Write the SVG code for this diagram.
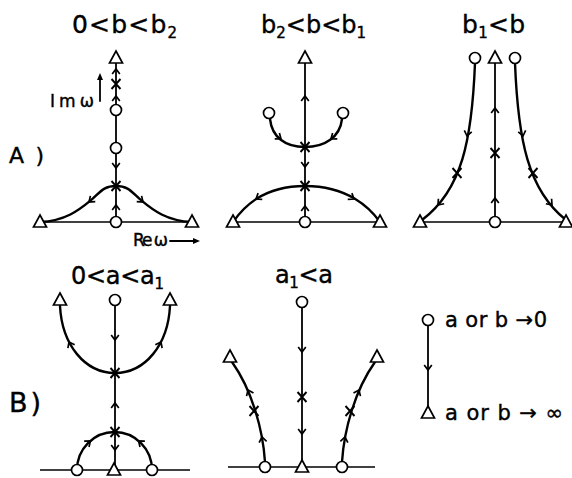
<svg xmlns="http://www.w3.org/2000/svg" xmlns:xlink="http://www.w3.org/1999/xlink" width="572" height="478" viewBox="0 0 572 478">
<style>
.ln{fill:none;stroke:#000;stroke-width:1.8;stroke-linecap:round}
.cv{fill:none;stroke:#000;stroke-width:2.4;stroke-linecap:round}
.ax{fill:none;stroke:#000;stroke-width:1.4}
.t{font-family:"DejaVu Sans","Liberation Sans",sans-serif;fill:#000;stroke:#000;stroke-width:0.4}
</style>
<defs>
<path id="ch" d="M-5,-3.8 L0,0 L-5,3.8" fill="none" stroke="#000" stroke-width="1.7" stroke-linejoin="miter"/>
<path id="x" d="M-4.5,-5 L4.5,5 M-4.5,5 L4.5,-5" fill="none" stroke="#000" stroke-width="1.9"/>
<circle id="o" r="5.5" fill="#fff" stroke="#000" stroke-width="1.7"/>
<path id="tr" d="M0,-7 L6.5,5 L-6.5,5Z" fill="#fff" stroke="#000" stroke-width="1.7" stroke-linejoin="miter"/>
<path id="ah" d="M0,0 L-7,-3 L-7,3Z" fill="#000"/>
</defs>

<g id="labels">
<text class="t" x="72" y="33" font-size="25" textLength="105" lengthAdjust="spacing">0&lt;b&lt;b<tspan font-size="15" dy="5">2</tspan></text>
<text class="t" x="261" y="33" font-size="24">b<tspan font-size="15" dy="5">2</tspan><tspan dy="-5">&lt;b&lt;b</tspan><tspan font-size="15" dy="5">1</tspan></text>
<text class="t" x="462" y="33" font-size="25" textLength="63" lengthAdjust="spacing">b<tspan font-size="15" dy="5">1</tspan><tspan dy="-5">&lt;b</tspan></text>
<text class="t" x="71" y="284" font-size="24" textLength="93" lengthAdjust="spacing">0&lt;a&lt;a<tspan font-size="15" dy="5">1</tspan></text>
<text class="t" x="275" y="283" font-size="24" textLength="58" lengthAdjust="spacing">a<tspan font-size="15" dy="5">1</tspan><tspan dy="-5">&lt;a</tspan></text>
<text class="t" x="9" y="163" font-size="22" textLength="35" lengthAdjust="spacing">A )</text>
<text class="t" x="9" y="412" font-size="27" textLength="32" lengthAdjust="spacing">B)</text>
<text class="t" x="50" y="107" font-size="17" textLength="44" lengthAdjust="spacing">Imω</text>
<line class="ln" x1="100" y1="101" x2="100" y2="78"/>
<use xlink:href="#ah" transform="translate(100,73) rotate(-90)"/>
<text class="t" x="133" y="246" font-size="17" textLength="35" lengthAdjust="spacing">Re ω</text>
<line class="ln" x1="170" y1="241" x2="193" y2="241"/>
<use xlink:href="#ah" transform="translate(200,241)"/>
<text class="t" x="445" y="327" font-size="21" textLength="102" lengthAdjust="spacing">a or b →0</text>
<text class="t" x="445" y="420" font-size="21" textLength="118" lengthAdjust="spacing">a or b → ∞</text>
</g>

<g id="connectors">
<line class="ax" x1="40" y1="222" x2="192" y2="222"/>
<line class="ln" x1="116" y1="222" x2="116" y2="58"/>
<path class="cv" d="M40,222 C65,221 79,210.3 91,200.2 C100,192.6 103,186 116,186 C129,186 132,192.6 141,200.2 C153,210.3 167,221 192,222"/>
<line class="ax" x1="233" y1="222" x2="380" y2="222"/>
<line class="ln" x1="305" y1="222" x2="305" y2="58"/>
<path class="cv" d="M233,222 C243,208 262,186 305,186 C348,186 370,208 380,222"/>
<path class="cv" d="M270,119 C272,137 285,147 305,147 C325,147 340,137 342,119"/>
<line class="ax" x1="420" y1="222" x2="567" y2="222"/>
<line class="ln" x1="495" y1="222" x2="495" y2="58"/>
<path class="cv" d="M475,63 C472,140 462,190 422,220"/>
<path class="cv" d="M515,63 C518,140 528,190 566,220"/>
<line class="ax" x1="40" y1="470" x2="190" y2="470"/>
<line class="ln" x1="115" y1="470" x2="115" y2="300"/>
<path class="cv" d="M77,470 A37.5,38 0 0 1 152,470"/>
<path class="cv" d="M60,306 C62,345 85,373 115,373 C145,373 168,345 170,306"/>
<line class="ax" x1="228" y1="467" x2="375" y2="467"/>
<line class="ln" x1="302" y1="467" x2="302" y2="302"/>
<path class="cv" d="M265,462 C263,430 252,390 232,362"/>
<path class="cv" d="M342,462 C344,430 355,390 375,362"/>
<line class="ln" x1="428" y1="320" x2="428" y2="413"/>

<use xlink:href="#ch" transform="translate(116,69) rotate(-90)"/>
<use xlink:href="#ch" transform="translate(116,96) rotate(-90)"/>
<use xlink:href="#ch" transform="translate(116,168) rotate(90)"/>
<use xlink:href="#ch" transform="translate(116,205) rotate(-90)"/>
<use xlink:href="#ch" transform="translate(89,202) rotate(140)"/>
<use xlink:href="#ch" transform="translate(143,202) rotate(40)"/>

<use xlink:href="#ch" transform="translate(305,96) rotate(-90)"/>
<use xlink:href="#ch" transform="translate(305,167) rotate(90)"/>
<use xlink:href="#ch" transform="translate(305,206) rotate(-90)"/>
<use xlink:href="#ch" transform="translate(281,139) rotate(38)"/>
<use xlink:href="#ch" transform="translate(331,139) rotate(142)"/>
<use xlink:href="#ch" transform="translate(256,199) rotate(147)"/>
<use xlink:href="#ch" transform="translate(354,199) rotate(33)"/>

<use xlink:href="#ch" transform="translate(495,108) rotate(-90)"/>
<use xlink:href="#ch" transform="translate(495,198) rotate(-90)"/>
<use xlink:href="#ch" transform="translate(467,136) rotate(102)"/>
<use xlink:href="#ch" transform="translate(438,205) rotate(131)"/>
<use xlink:href="#ch" transform="translate(523,136) rotate(78)"/>
<use xlink:href="#ch" transform="translate(552,205) rotate(49)"/>

<use xlink:href="#ch" transform="translate(115,340) rotate(90)"/>
<use xlink:href="#ch" transform="translate(115,403) rotate(-90)"/>
<use xlink:href="#ch" transform="translate(115,450) rotate(90)"/>
<use xlink:href="#ch" transform="translate(69,342) rotate(-117)"/>
<use xlink:href="#ch" transform="translate(161,342) rotate(-63)"/>
<use xlink:href="#ch" transform="translate(90.4,440.9) rotate(-40)"/>
<use xlink:href="#ch" transform="translate(138.6,440.9) rotate(-140)"/>

<use xlink:href="#ch" transform="translate(302,352) rotate(90)"/>
<use xlink:href="#ch" transform="translate(302,434) rotate(90)"/>
<use xlink:href="#ch" transform="translate(262,437) rotate(-100)"/>
<use xlink:href="#ch" transform="translate(248,390) rotate(-114)"/>
<use xlink:href="#ch" transform="translate(345,437) rotate(-80)"/>
<use xlink:href="#ch" transform="translate(359,390) rotate(-66)"/>

<use xlink:href="#ch" transform="translate(428,370) rotate(90)"/>
</g>

<g id="crosses">
<use xlink:href="#x" x="116" y="84"/>
<use xlink:href="#x" x="116" y="186"/>
<use xlink:href="#x" x="305" y="147"/>
<use xlink:href="#x" x="305" y="186"/>
<use xlink:href="#x" x="495" y="153"/>
<use xlink:href="#x" x="457" y="173"/>
<use xlink:href="#x" x="533" y="173"/>
<use xlink:href="#x" x="115" y="373"/>
<use xlink:href="#x" x="115" y="432"/>
<use xlink:href="#x" x="302" y="397"/>
<use xlink:href="#x" x="254" y="411"/>
<use xlink:href="#x" x="350" y="411"/>
</g>

<g id="nodes">
<g id="a1-top"><use xlink:href="#tr" x="116" y="58"/></g>
<g id="a1-c1"><use xlink:href="#o" x="116" y="110"/></g>
<g id="a1-c2"><use xlink:href="#o" x="116" y="148"/></g>
<g id="a1-c0"><use xlink:href="#o" x="116" y="222"/></g>
<g id="a1-tl"><use xlink:href="#tr" x="40" y="222"/></g>
<g id="a1-tr"><use xlink:href="#tr" x="192" y="222"/></g>

<g id="a2-top"><use xlink:href="#tr" x="305" y="58"/></g>
<g id="a2-cl"><use xlink:href="#o" x="269" y="113"/></g>
<g id="a2-cr"><use xlink:href="#o" x="343" y="113"/></g>
<g id="a2-c0"><use xlink:href="#o" x="305" y="222"/></g>
<g id="a2-tl"><use xlink:href="#tr" x="233" y="222"/></g>
<g id="a2-tr"><use xlink:href="#tr" x="380" y="222"/></g>

<g id="a3-top"><use xlink:href="#tr" x="495" y="58"/></g>
<g id="a3-cl"><use xlink:href="#o" x="475" y="58"/></g>
<g id="a3-cr"><use xlink:href="#o" x="515" y="58"/></g>
<g id="a3-c0"><use xlink:href="#o" x="495" y="222"/></g>
<g id="a3-tl"><use xlink:href="#tr" x="420" y="222"/></g>
<g id="a3-tr"><use xlink:href="#tr" x="566" y="222"/></g>

<g id="b1-top"><use xlink:href="#o" x="115" y="300"/></g>
<g id="b1-tl"><use xlink:href="#tr" x="60" y="300"/></g>
<g id="b1-tr"><use xlink:href="#tr" x="170" y="300"/></g>
<g id="b1-cl"><use xlink:href="#o" x="77" y="470"/></g>
<g id="b1-cr"><use xlink:href="#o" x="152" y="470"/></g>
<g id="b1-t0"><use xlink:href="#tr" x="114" y="470"/></g>

<g id="b2-top"><use xlink:href="#o" x="302" y="302"/></g>
<g id="b2-tl"><use xlink:href="#tr" x="230" y="357"/></g>
<g id="b2-tr"><use xlink:href="#tr" x="377" y="357"/></g>
<g id="b2-cl"><use xlink:href="#o" x="265" y="467"/></g>
<g id="b2-cr"><use xlink:href="#o" x="342" y="467"/></g>
<g id="b2-t0"><use xlink:href="#tr" x="302" y="467"/></g>

<g id="legend-o"><use xlink:href="#o" x="428" y="320"/></g>
<g id="legend-t"><use xlink:href="#tr" x="428" y="413"/></g>
</g>
</svg>
